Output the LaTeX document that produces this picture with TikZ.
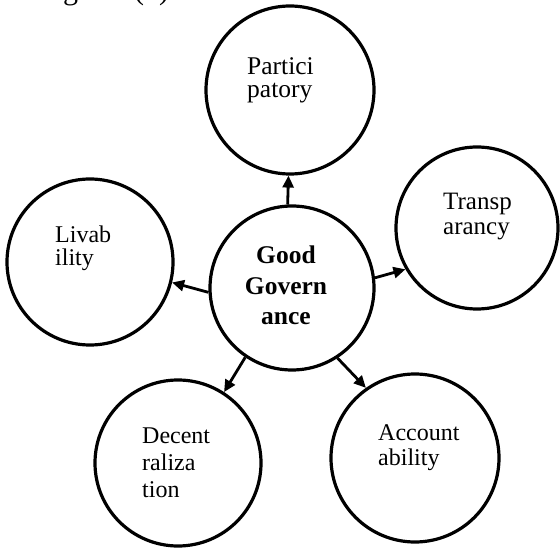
\documentclass[tikz,border=0pt]{standalone}
\usepackage{fontspec}
\setmainfont{Liberation Serif}
\usetikzlibrary{arrows.meta}
\begin{document}
\begin{tikzpicture}[x=1pt,y=-1pt,
  circ/.style={circle,draw,line width=3.2pt,inner sep=0pt},
  lbl/.style={anchor=base west,align=left,inner sep=0pt},
  link/.style={line width=2.8pt,-{Triangle[length=12pt,width=11pt]}}]
\useasboundingbox (0,0) rectangle (560,548);
\fill[white] (0,0) rectangle (560,548);
\begin{scope}
\clip (0,0) rectangle (560,548);
\node[anchor=base west,inner sep=0pt,font=\fontsize{30}{34}\selectfont] (cap) at (38,0) {Figure. (5)};
\end{scope}
% circles
\node[circ,minimum size=168pt] (p) at (290,90) {};
\node[circ,minimum size=162pt] (t) at (477,228) {};
\node[circ,minimum size=166pt] (l) at (90,262) {};
\node[circ,minimum size=164pt] (g) at (292,288) {};
\node[circ,minimum size=166pt] (d) at (178,463) {};
\node[circ,minimum size=168pt] (a) at (415,458) {};
% labels (base = last line)
\node[lbl,font=\fontsize{25.5}{23}\selectfont] (ptxt) at (247,98) {Partici\\patory};
\node[lbl,font=\fontsize{25}{25}\selectfont] (ttxt) at (443,235) {Transp\\arancy};
\node[lbl,font=\fontsize{24}{23}\selectfont] (ltxt) at (55,266) {Livab\\ility};
\node[anchor=base,align=center,inner sep=0pt,font=\fontsize{25.5}{31}\selectfont\bfseries] (gtxt) at (286,325) {Good\\Govern\\ance};
\node[lbl,font=\fontsize{24}{27}\selectfont] (dtxt) at (142,497) {Decent\\raliza\\tion};
\node[lbl,font=\fontsize{24}{25}\selectfont] (atxt) at (378,465) {Account\\ability};
% connectors
\draw[link] (g.93) -- (p.269);
\draw[link] (g.7) -- (t.210);
\draw[link] (g.183) -- (l.-14);
\draw[link] (g.236) -- (d.57);
\draw[link] (g.303) -- (a.125);
\end{tikzpicture}
\end{document}
